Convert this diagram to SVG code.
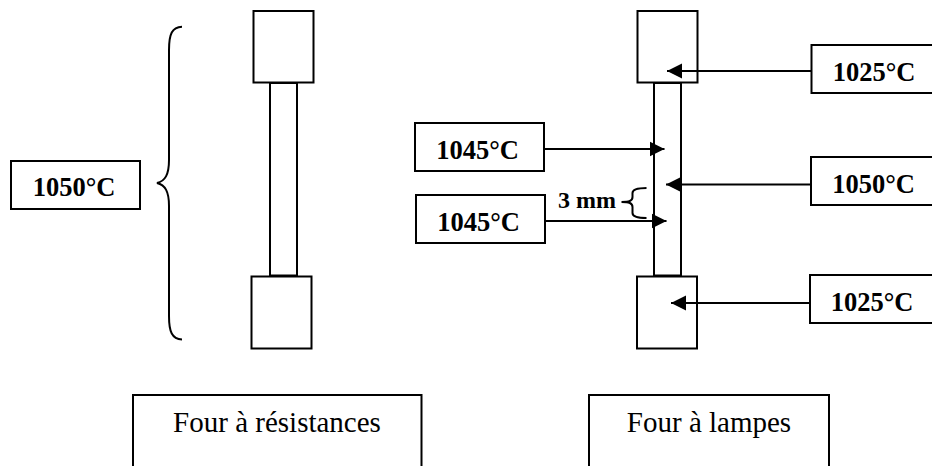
<svg xmlns="http://www.w3.org/2000/svg" width="932" height="466" viewBox="0 0 932 466">
<style>
.b{fill:#fff;stroke:#000;stroke-width:2}
.s{fill:none;stroke:#000;stroke-width:2}
.t{font-family:"Liberation Serif","Times New Roman",serif;font-weight:bold;font-size:26.500px;fill:#000;text-anchor:middle}
.r{font-family:"Liberation Serif","Times New Roman",serif;font-size:29px;fill:#000;text-anchor:middle}
.m{font-family:"Liberation Serif","Times New Roman",serif;font-weight:bold;font-size:24px;fill:#000}
.c{stroke:#000;stroke-width:2;fill:none;marker-end:url(#h)}
</style>
<defs><marker id="h" markerUnits="userSpaceOnUse" markerWidth="15" markerHeight="16" refX="15" refY="8" orient="auto"><path d="M0 0.500L15 8L0 15.500Z" fill="#000"/></marker></defs>
<rect width="932" height="466" fill="#fff"/>
<g id="eprouvette-resistances">
<rect class="b" x="270" y="83" width="27" height="192.500"/>
<rect class="b" x="253.500" y="11" width="60" height="71.500"/>
<rect class="b" x="251.500" y="276.500" width="60" height="72"/>
</g>
<g id="accolade-resistances"><path class="s" d="M182 26.700C172 27 169 34 169 50V160C169 175 165 181 157 183C165 185 169 191 169 206V316C169 332 172 339 182 339.500"/></g>
<g id="label-1050-gauche"><rect class="b" x="11" y="161" width="129" height="48"/><text class="t" x="74" y="196">1050°C</text></g>
<g id="eprouvette-lampes">
<rect class="b" x="654" y="83" width="27" height="192.500"/>
<rect class="b" x="637.500" y="11" width="60" height="71.500"/>
<rect class="b" x="637" y="276.500" width="60" height="72"/>
</g>
<g id="label-1045-haut"><rect class="b" x="415" y="123" width="129" height="48"/><text class="t" x="477.500" y="159">1045°C</text></g>
<g id="label-1045-bas"><rect class="b" x="416" y="195" width="129" height="48"/><text class="t" x="478.500" y="231">1045°C</text></g>
<g id="label-1025-haut"><rect class="b" x="811.500" y="45" width="135" height="48"/><text class="t" x="874" y="81">1025°C</text></g>
<g id="label-1050-droite"><rect class="b" x="811" y="157" width="135" height="48"/><text class="t" x="873.500" y="193">1050°C</text></g>
<g id="label-1025-bas"><rect class="b" x="810" y="275" width="135" height="48"/><text class="t" x="872" y="311">1025°C</text></g>
<g id="label-3mm"><text class="m" x="558" y="208">3 mm</text><path class="s" d="M646.500 188C638 188 632.500 189 632.500 193V197C632.500 201 629 202 621.500 202C629 202 632.500 203 632.500 207V213C632.500 217 638 218 646.500 218"/></g>
<g id="titre-resistances"><path class="s" d="M133 466V395H421.500V466"/><text class="r" x="277" y="432">Four à résistances</text></g>
<g id="titre-lampes"><path class="s" d="M589 466V395H829V466"/><text class="r" x="709" y="432">Four à lampes</text></g>
<g id="connectors">
<line class="c" x1="545" y1="149" x2="664.500" y2="149"/>
<line class="c" x1="546" y1="221" x2="666.500" y2="221"/>
<line class="c" x1="811" y1="71" x2="667" y2="71"/>
<line class="c" x1="811" y1="184.500" x2="666" y2="184.500"/>
<line class="c" x1="810" y1="303" x2="671" y2="303"/>
</g>
</svg>
